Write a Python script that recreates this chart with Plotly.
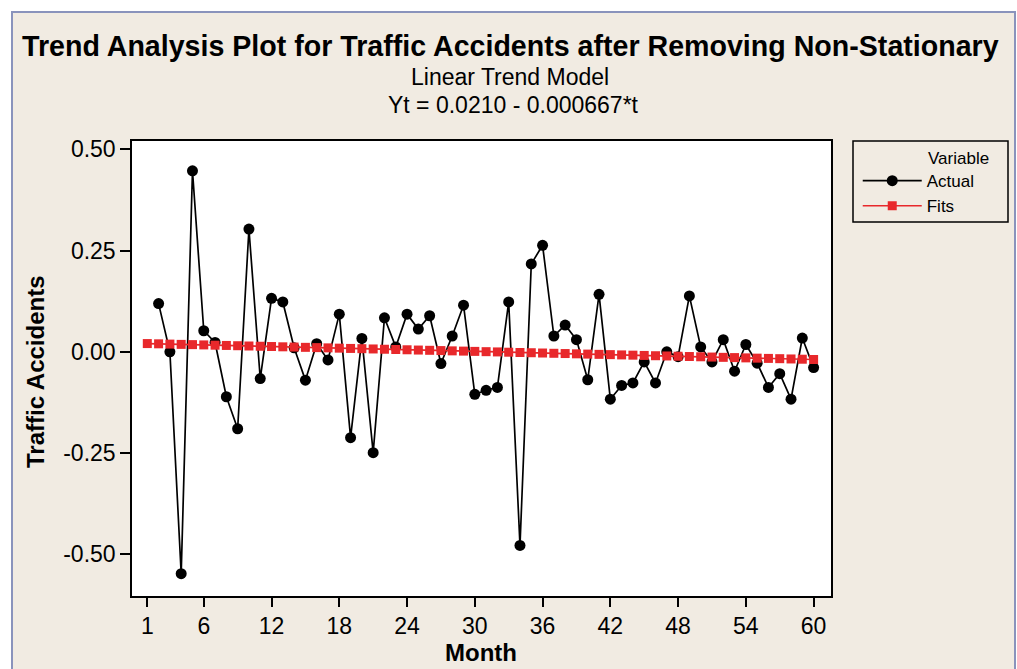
import plotly.graph_objects as go

# ---- data ----
months_actual = list(range(2, 61))
actual = [0.119, 0.000, -0.548, 0.447, 0.052, 0.023, -0.111, -0.190, 0.303, -0.066,
          0.132, 0.123, 0.010, -0.070, 0.020, -0.020, 0.093, -0.212, 0.033, -0.249,
          0.084, 0.012, 0.093, 0.056, 0.089, -0.029, 0.039, 0.115, -0.105, -0.095,
          -0.088, 0.123, -0.478, 0.217, 0.263, 0.039, 0.066, 0.030, -0.069, 0.142,
          -0.117, -0.083, -0.077, -0.025, -0.077, 0.000, -0.012, 0.138, 0.012, -0.025,
          0.030, -0.048, 0.018, -0.028, -0.088, -0.054, -0.117, 0.034, -0.039]
months_fit = list(range(1, 61))
fits = [0.0203, 0.0197, 0.0190, 0.0183, 0.0177, 0.0170, 0.0163, 0.0157, 0.0150, 0.0143,
        0.0137, 0.0130, 0.0123, 0.0117, 0.0110, 0.0103, 0.0097, 0.0090, 0.0083, 0.0077,
        0.0070, 0.0063, 0.0057, 0.0050, 0.0043, 0.0037, 0.0030, 0.0023, 0.0017, 0.0010,
        0.0003, -0.0003, -0.0010, -0.0017, -0.0023, -0.0030, -0.0037, -0.0043, -0.0050, -0.0057,
        -0.0063, -0.0070, -0.0077, -0.0083, -0.0090, -0.0097, -0.0103, -0.0110, -0.0117, -0.0123,
        -0.0130, -0.0137, -0.0143, -0.0150, -0.0157, -0.0163, -0.0170, -0.0177, -0.0183, -0.0190]
x_ticks = [1, 6, 12, 18, 24, 30, 36, 42, 48, 54, 60]
y_ticks = [-0.50, -0.25, 0.00, 0.25, 0.50]

title_main = "Trend Analysis Plot for Traffic Accidents after Removing Non-Stationary"
title_sub1 = "Linear Trend Model"
title_sub2 = "Yt = 0.0210 - 0.000667*t"
legend_title = "Variable"

FONT = "Liberation Sans, Arial, sans-serif"
BEIGE = "#F1EBE2"
W, H = 1017, 669
L, R, T, B = 132, 831, 141, 596


def px(xp):
    return (xp - L) / (R - L)


def py(yp):
    return (B - yp) / (B - T)


fig = go.Figure()
fig.add_trace(go.Scatter(
    x=months_actual, y=actual, name="Actual", mode="lines+markers",
    line=dict(color="black", width=1.7),
    marker=dict(symbol="circle", size=11, color="black"),
))
fig.add_trace(go.Scatter(
    x=months_fit, y=fits, name="Fits", mode="lines+markers",
    line=dict(color="#E8282B", width=1.7),
    marker=dict(symbol="square", size=9, color="#E8282B"),
))

shapes = [
    dict(type="rect", xref="paper", yref="paper", layer="below",
         x0=px(12), x1=px(1015), y0=py(700), y1=py(12),
         fillcolor=BEIGE, line=dict(color="#8A93BC", width=2)),
    dict(type="rect", xref="paper", yref="paper", layer="below",
         x0=0, x1=1, y0=0, y1=1, fillcolor="white", line=dict(width=0)),
    dict(type="rect", xref="paper", yref="paper", layer="below",
         x0=px(853), x1=px(1008), y0=py(222), y1=py(141),
         fillcolor=BEIGE, line=dict(color="black", width=1.5)),
]

annotations = [
    dict(text="<b>" + title_main + "</b>", xref="paper", yref="paper",
         x=px(510), y=py(46), xanchor="center", yanchor="middle", showarrow=False,
         font=dict(family=FONT, size=28.6, color="black")),
    dict(text=title_sub1, xref="paper", yref="paper",
         x=px(510), y=py(77), xanchor="center", yanchor="middle", showarrow=False,
         font=dict(family=FONT, size=23, color="black")),
    dict(text=title_sub2, xref="paper", yref="paper",
         x=px(513), y=py(105), xanchor="center", yanchor="middle", showarrow=False,
         font=dict(family=FONT, size=23, color="black")),
    dict(text="<b>Traffic Accidents</b>", xref="paper", yref="paper",
         x=px(35), y=py(372), xanchor="center", yanchor="middle", showarrow=False,
         textangle=-90, font=dict(family=FONT, size=24, color="black")),
    dict(text="<b>Month</b>", xref="paper", yref="paper",
         x=px(481), y=py(652), xanchor="center", yanchor="middle", showarrow=False,
         font=dict(family=FONT, size=24, color="black")),
    dict(text=legend_title, xref="paper", yref="paper",
         x=px(926), y=py(158), xanchor="left", yanchor="middle", showarrow=False,
         font=dict(family=FONT, size=17, color="black")),
]

fig.update_layout(
    width=W, height=H,
    margin=dict(l=L, r=W - R, t=T, b=H - B),
    paper_bgcolor="white", plot_bgcolor="white",
    font=dict(family=FONT, size=22, color="black"),
    shapes=shapes, annotations=annotations,
    showlegend=True,
    legend=dict(
        x=px(853), y=1.0, xanchor="left", yanchor="top",
        bgcolor="rgba(0,0,0,0)", borderwidth=0,
        font=dict(family=FONT, size=17, color="black"),
        title=dict(text="&nbsp;", side="top left", font=dict(family=FONT, size=17)),
        itemwidth=59, tracegroupgap=0,
    ),
    xaxis=dict(
        range=[-0.355, 61.54], tickmode="array", tickvals=x_ticks,
        ticktext=[str(v) for v in x_ticks],
        showgrid=False, zeroline=False, showline=True, mirror=True,
        linecolor="black", linewidth=1.5, ticks="outside", ticklen=9,
        tickcolor="black", tickwidth=1.5, tickfont=dict(size=23),
    ),
    yaxis=dict(
        range=[-0.603, 0.5205], tickmode="array", tickvals=y_ticks,
        ticktext=["%.2f" % v for v in y_ticks],
        showgrid=False, zeroline=False, showline=True, mirror=True,
        linecolor="black", linewidth=1.5, ticks="outside", ticklen=10,
        tickcolor="black", tickwidth=1.5, tickfont=dict(size=23),
    ),
)

fig.write_html("out.html", config={"displayModeBar": False},
               post_script="document.body.style.margin='0';document.body.style.overflow='hidden';")
